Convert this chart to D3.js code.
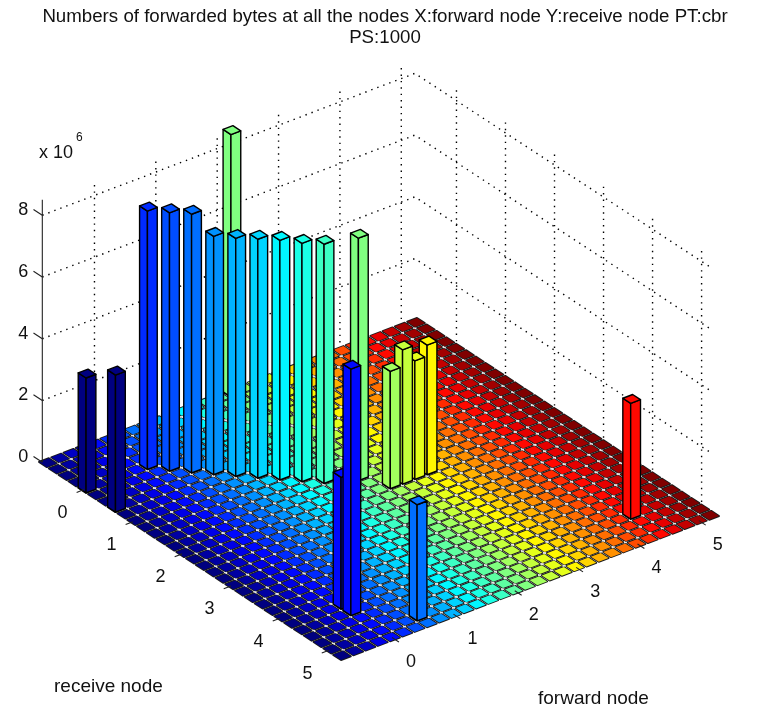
<!DOCTYPE html>
<html lang="en">
  <head>
    <meta charset="UTF-8" />
    <title>Numbers of forwarded bytes</title>
    <script src="https://d3js.org/d3.v7.min.js"></script>
    <style>
      body {
        margin: 0;
        background: #fff;
      }
      svg {
        filter: blur(0.4px);
      }
      text {
        font-family: "Liberation Sans", Arial, sans-serif;
        fill: #111;
      }
      .wall {
        fill: none;
        stroke: #000;
        stroke-width: 1.4;
        stroke-dasharray: 1.4 5;
      }
      .axis-line {
        stroke: #222;
        stroke-width: 1.1;
      }
      .face {
        stroke: #000;
        stroke-width: 1.4;
        stroke-linejoin: round;
      }
      .cell {
        stroke: #1a1a1a;
        stroke-width: 1.9;
        stroke-linejoin: round;
        paint-order: stroke;
      }
      .gap {
        fill: none;
        stroke: #e6e6e6;
        stroke-width: 1.2;
      }
    </style>
  </head>
  <body>
    <div id="chart"></div>
    <script>
      const titleLines = [
        "Numbers of forwarded bytes at all the nodes X:forward node Y:receive node PT:cbr",
        "PS:1000"
      ];
      const nodeTicks = [0, 1, 2, 3, 4, 5];
      const byteTicks = [0, 2, 4, 6, 8];

      // the grid of bar3 columns, step 0.2 from -0.8 to 5.2
      const gridStart = -0.8;
      const gridStep = 0.2;
      const gridCount = 31;

      // the bars that stick out of the floor, bytes in units of 10^6
      const forwardNode = [-0.8, -0.8, 0.2, 0.4, 0.6, 0.8, 1.0, 1.2, 1.4, 1.6, 1.8, 2.2, 2.2, 2.4, 2.6, 2.8, 3.0, 0.0, 0.0, 0.6, 4.4];
      const receiveNode = [0.0, 0.6, 0.0, 0.2, 0.4, 0.6, 0.8, 1.0, 1.2, 1.4, 1.6, -0.8, 1.8, 2.2, 2.2, 2.2, 2.2, 4.2, 4.4, 5.0, 4.6];
      const bytesSent = [3.72, 4.44, 8.37, 8.37, 8.38, 7.72, 7.71, 7.74, 7.76, 7.72, 7.75, 8.5, 7.85, 3.8, 4.35, 3.84, 4.2, 4.27, 7.98, 3.76, 3.75];

      const jetStops = ["#000080", "#0000ff", "#00ffff", "#ffff00", "#ff0000", "#800000"];

      const width = 760;
      const height = 708;
      const halfBar = 0.08;
      const floorLim = [-0.88, 5.28];
      const wallLow = -0.85;
      const wallHigh = 5.22;
      const zTop = 8.4;

      const svg = d3
        .select("#chart")
        .append("svg")
        .attr("width", width)
        .attr("height", height);

      // oblique view: each data axis moves the pixel in x and y
      const forwardX = d3.scaleLinear().domain(floorLim).range([0, 378]);
      const forwardY = d3.scaleLinear().domain(floorLim).range([0, -144]);
      const receiveX = d3.scaleLinear().domain(floorLim).range([39, 341]);
      const receiveY = d3.scaleLinear().domain(floorLim).range([462, 660]);
      const zY = d3.scaleLinear().domain([0, 8]).range([0, -247]);

      const color = d3
        .scaleLinear()
        .domain([0, 0.125, 0.375, 0.625, 0.875, 1])
        .range(jetStops);

      function project(f, r, z) {
        return [
          forwardX(f) + receiveX(r),
          forwardY(f) + receiveY(r) + zY(z)
        ];
      }

      function colorOf(f) {
        return color((f - gridStart) / (gridStep * (gridCount - 1)));
      }

      const polyline = d3.line();

      function topFace(f, r, z) {
        return (
          polyline([
            project(f - halfBar, r - halfBar, z),
            project(f - halfBar, r + halfBar, z),
            project(f + halfBar, r + halfBar, z),
            project(f + halfBar, r - halfBar, z)
          ]) + "Z"
        );
      }

      // dotted walls
      const walls = svg.append("g");
      byteTicks.forEach((z) => {
        walls
          .append("path")
          .attr("class", "wall")
          .attr(
            "d",
            polyline([
              project(wallLow, wallLow, z),
              project(wallHigh, wallLow, z),
              project(wallHigh, wallHigh, z)
            ])
          );
      });
      nodeTicks.forEach((t) => {
        walls
          .append("path")
          .attr("class", "wall")
          .attr("d", polyline([project(t, wallLow, 0), project(t, wallLow, zTop)]));
        walls
          .append("path")
          .attr("class", "wall")
          .attr("d", polyline([project(wallHigh, t, 0), project(wallHigh, t, zTop)]));
      });

      // floor: one flat column per grid position
      const gridValues = d3.range(gridCount).map((i) => gridStart + i * gridStep);
      const floor = svg.append("g");
      gridValues
        .slice()
        .reverse()
        .forEach((f) => {
          gridValues.forEach((r) => {
            floor
              .append("path")
              .attr("class", "cell")
              .attr("fill", colorOf(f))
              .attr("d", topFace(f, r, 0));
          });
        });

      // light specks where the gaps between the columns cross
      const midLow = gridStart + gridStep / 2;
      const midHigh = gridValues[gridCount - 1] - gridStep / 2;
      const pixelStep = (a, b) => Math.hypot(a[0] - b[0], a[1] - b[1]);
      const alongForward = pixelStep(project(0, 0, 0), project(gridStep, 0, 0));
      const alongReceive = pixelStep(project(0, 0, 0), project(0, gridStep, 0));
      gridValues.slice(0, -1).forEach((v) => {
        const mid = v + gridStep / 2;
        floor
          .append("path")
          .attr("class", "gap")
          .attr("stroke-dasharray", `3.5 ${alongReceive - 3.5}`)
          .attr("stroke-dashoffset", 1.7)
          .attr("d", polyline([project(mid, midLow, 0), project(mid, midHigh, 0)]));
        floor
          .append("path")
          .attr("class", "gap")
          .attr("stroke-dasharray", `3 ${alongForward - 3}`)
          .attr("stroke-dashoffset", 1.5)
          .attr("d", polyline([project(midLow, mid, 0), project(midHigh, mid, 0)]));
      });

      // bars, painted from the far corner to the near one
      const bars = d3
        .range(bytesSent.length)
        .map((i) => ({ f: forwardNode[i], r: receiveNode[i], z: bytesSent[i] }))
        .sort((a, b) => d3.descending(a.f, b.f) || d3.ascending(a.r, b.r));

      const barGroups = svg
        .append("g")
        .selectAll("g")
        .data(bars)
        .enter()
        .append("g")
        .attr("fill", (d) => colorOf(d.f));

      barGroups
        .append("path")
        .attr("class", "face")
        .attr("d", (d) =>
          polyline([
            project(d.f - halfBar, d.r - halfBar, 0),
            project(d.f - halfBar, d.r + halfBar, 0),
            project(d.f - halfBar, d.r + halfBar, d.z),
            project(d.f - halfBar, d.r - halfBar, d.z)
          ]) + "Z"
        );
      barGroups
        .append("path")
        .attr("class", "face")
        .attr("d", (d) =>
          polyline([
            project(d.f - halfBar, d.r + halfBar, 0),
            project(d.f + halfBar, d.r + halfBar, 0),
            project(d.f + halfBar, d.r + halfBar, d.z),
            project(d.f - halfBar, d.r + halfBar, d.z)
          ]) + "Z"
        );
      barGroups
        .append("path")
        .attr("class", "face")
        .attr("d", (d) => topFace(d.f, d.r, d.z));

      // axes
      const axes = svg.append("g");
      axes
        .append("path")
        .attr("class", "axis-line")
        .attr("d", polyline([project(wallLow, wallLow, 0), project(wallLow, wallLow, 8.5)]));

      byteTicks.forEach((z) => {
        const p = project(wallLow, wallLow, z);
        axes
          .append("path")
          .attr("class", "axis-line")
          .attr("d", polyline([p, project(wallLow, wallLow - 0.18, z)]));
        axes
          .append("text")
          .attr("x", p[0] - 19)
          .attr("y", p[1] - 6.5)
          .attr("dy", "0.36em")
          .attr("text-anchor", "middle")
          .attr("font-size", 18)
          .text(z);
      });

      nodeTicks.forEach((t) => {
        const pr = project(wallLow, t, 0);
        axes
          .append("path")
          .attr("class", "axis-line")
          .attr("d", polyline([pr, project(wallLow - 0.12, t, 0)]));
        axes
          .append("text")
          .attr("x", pr[0] - 21.5)
          .attr("y", pr[1] + 22)
          .attr("dy", "0.36em")
          .attr("text-anchor", "middle")
          .attr("font-size", 18)
          .text(t);

        const pf = project(t, wallHigh, 0);
        axes
          .append("path")
          .attr("class", "axis-line")
          .attr("d", polyline([pf, project(t, wallHigh + 0.14, 0)]));
        axes
          .append("text")
          .attr("x", pf[0] + 19)
          .attr("y", pf[1] + 23)
          .attr("dy", "0.36em")
          .attr("text-anchor", "middle")
          .attr("font-size", 18)
          .text(t);
      });

      // exponent label
      axes
        .append("text")
        .attr("x", 39)
        .attr("y", 158)
        .attr("font-size", 18)
        .text("x 10");
      axes
        .append("text")
        .attr("x", 76)
        .attr("y", 141)
        .attr("font-size", 12)
        .text("6");

      // title and axis names
      svg
        .selectAll(".title")
        .data(titleLines)
        .enter()
        .append("text")
        .attr("class", "title")
        .attr("x", 385)
        .attr("y", (d, i) => 22 + i * 21)
        .attr("text-anchor", "middle")
        .attr("font-size", 18.7)
        .text((d) => d);

      svg
        .append("text")
        .attr("x", 54)
        .attr("y", 692)
        .attr("font-size", 19)
        .text("receive node");
      svg
        .append("text")
        .attr("x", 538)
        .attr("y", 704)
        .attr("font-size", 19)
        .text("forward node");
    </script>
  </body>
</html>
